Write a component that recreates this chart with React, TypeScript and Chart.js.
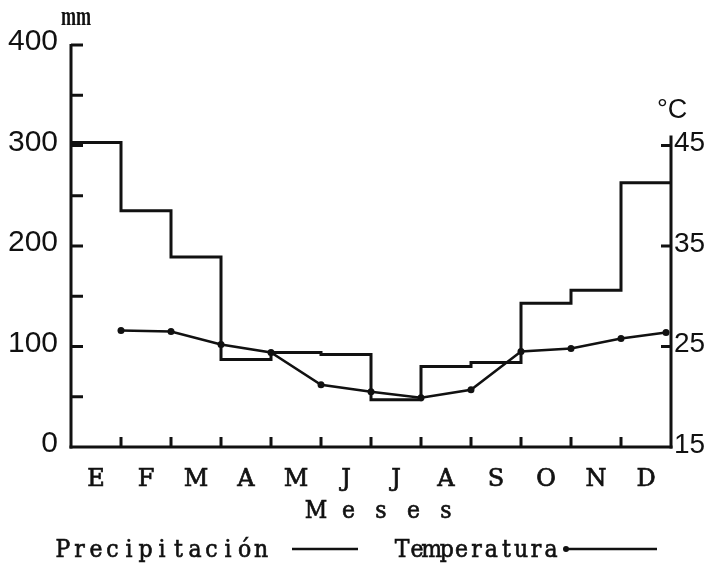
import React, { useEffect, useRef } from 'react';
import { Chart, registerables } from 'chart.js';

Chart.register(...registerables);

// ---- data ----
const months = ['E', 'F', 'M', 'A', 'M', 'J', 'J', 'A', 'S', 'O', 'N', 'D'];
const precipitation = [303, 235, 189, 87, 94, 92, 47, 80, 84, 143, 156, 263];
const temperature = [26.6, 26.5, 25.2, 24.4, 21.2, 20.5, 19.9, 20.7, 24.5, 24.8, 25.8, 26.4];
const temperatureX = [1, 2, 3, 4, 5, 6, 7, 8, 9, 10, 11, 11.9];
const precipLabelStep = 100;
const precipTickStep = 50;
const temperatureTicks = [15, 25, 35, 45];
const xTitle = 'M e s e s';
const precipUnit = 'mm';
const tempUnit = '°C';
const legendPrecip = 'Precipitación';
const legendTemp = 'Temperatura';

const INK = '#111';
const TYPE_FONT = '"DejaVu Serif"';

const precipPoints = precipitation
  .map((v, i) => ({ x: i, y: v }))
  .concat([{ x: precipitation.length, y: precipitation[precipitation.length - 1] }]);
const tempPoints = temperature.map((v, i) => ({ x: temperatureX[i], y: v }));

// typewriter-like text: fixed advance per character
function drawSpaced(ctx: CanvasRenderingContext2D, text: string, firstCenter: number, adv: number, baseline: number) {
  const chars = Array.from(text);
  chars.forEach((c, i) => {
    if (c === ' ') return;
    ctx.save();
    ctx.translate(firstCenter + i * adv, baseline);
    ctx.scale(0.88, 1);
    ctx.textAlign = 'center';
    ctx.textBaseline = 'alphabetic';
    ctx.lineWidth = 0.7;
    ctx.fillText(c, 0, 0);
    ctx.strokeText(c, 0, 0);
    ctx.restore();
  });
}

const decor = {
  id: 'decor',
  afterDatasetsDraw(chart: any) {
    const { ctx, chartArea: ca, scales } = chart;
    const x = scales.x, y = scales.y, y1 = scales.y1;
    const seg = (x0: number, y0: number, x2: number, y2: number) => {
      ctx.beginPath();
      ctx.moveTo(x0, y0);
      ctx.lineTo(x2, y2);
      ctx.stroke();
    };
    ctx.save();
    ctx.strokeStyle = INK;
    ctx.fillStyle = INK;
    ctx.lineWidth = 3;
    ctx.lineCap = 'butt';
    // left axis
    seg(ca.left, y.getPixelForValue(400) - 1, ca.left, ca.bottom + 1.5);
    y.ticks.forEach((t: any) => {
      const py = y.getPixelForValue(t.value);
      if (t.value > 0) seg(ca.left, py, ca.left + 12, py);
    });
    // bottom axis
    seg(ca.left - 1.5, ca.bottom, ca.right + 1.5, ca.bottom);
    for (let i = 1; i < months.length; i++) {
      const px = x.getPixelForValue(i);
      seg(px, ca.bottom, px, ca.bottom - 10);
    }
    // right axis
    seg(ca.right, y1.getPixelForValue(46), ca.right, ca.bottom + 1.5);
    temperatureTicks.forEach((v) => {
      if (v === 15) return;
      const py = y1.getPixelForValue(v);
      seg(ca.right - 10, py, ca.right, py);
    });

    // unit labels
    ctx.save();
    ctx.font = 'bold 19px "Liberation Serif"';
    ctx.textAlign = 'left';
    ctx.textBaseline = 'alphabetic';
    ctx.translate(61, 25);
    ctx.scale(0.95, 1.4);
    ctx.fillText(precipUnit, 0, 0);
    ctx.restore();

    ctx.font = '27px "Liberation Sans"';
    ctx.textAlign = 'left';
    ctx.textBaseline = 'alphabetic';
    ctx.fillText(tempUnit, 657, 118);

    // axis title
    ctx.font = `25px ${TYPE_FONT}`;
    drawSpaced(ctx, xTitle, 316, 16.25, 518);

    // legend
    drawSpaced(ctx, legendPrecip, 63, 16.5, 557);
    ctx.lineWidth = 2.5;
    seg(292, 549, 358, 549);
    drawSpaced(ctx, legendTemp, 402, 14.9, 557);
    seg(565, 549, 657, 549);
    ctx.beginPath();
    ctx.arc(566, 549, 3, 0, Math.PI * 2);
    ctx.fill();
    ctx.restore();
  },
};

export default function App() {
  const ref = useRef<HTMLCanvasElement>(null);
  useEffect(() => {
    if (!ref.current) return;
    const chart = new Chart(ref.current, {
      type: 'line',
      data: {
        datasets: [
          {
            label: legendPrecip,
            data: precipPoints,
            yAxisID: 'y',
            stepped: 'before',
            borderColor: INK,
            borderWidth: 3,
            pointRadius: 0,
            fill: false,
            borderJoinStyle: 'miter',
          } as any,
          {
            label: legendTemp,
            data: tempPoints,
            yAxisID: 'y1',
            borderColor: INK,
            borderWidth: 2.5,
            pointRadius: 3.5,
            pointBackgroundColor: INK,
            pointBorderWidth: 0,
            tension: 0,
            fill: false,
          },
        ],
      },
      options: {
        responsive: false,
        animation: false,
        layout: { padding: { top: 45, left: 0, right: 0, bottom: 0 } },
        plugins: { legend: { display: false }, tooltip: { enabled: false }, title: { display: false } },
        scales: {
          x: {
            type: 'linear',
            min: 0,
            max: months.length,
            grid: { display: false, drawTicks: false },
            border: { display: false },
            afterBuildTicks: (scale: any) => {
              scale.ticks = months.map((_, i) => ({ value: i + 0.5 }));
            },
            afterFit: (scale: any) => {
              scale.height = 118;
            },
            ticks: {
              autoSkip: false,
              maxRotation: 0,
              padding: 18,
              color: INK,
              textStrokeColor: INK,
              textStrokeWidth: 0.7,
              font: { family: TYPE_FONT, size: 24 },
              callback: (_v: any, i: number) => months[i],
            },
          },
          y: {
            type: 'linear',
            position: 'left',
            min: 0,
            max: 400,
            grid: { display: false, drawTicks: false },
            border: { display: false },
            afterFit: (scale: any) => {
              scale.width = 71;
            },
            ticks: {
              stepSize: precipTickStep,
              padding: 13,
              labelOffset: -3,
              color: INK,
              font: { family: '"Liberation Sans"', size: 30 },
              callback: (v: any) => (v % precipLabelStep === 0 ? String(v) : ''),
            },
          },
          y1: {
            type: 'linear',
            position: 'right',
            min: 15,
            max: 55,
            grid: { display: false, drawTicks: false },
            border: { display: false },
            afterFit: (scale: any) => {
              scale.width = 40;
            },
            afterBuildTicks: (scale: any) => {
              scale.ticks = temperatureTicks.map((v) => ({ value: v }));
            },
            ticks: {
              padding: 3,
              labelOffset: -2,
              color: INK,
              font: { family: '"Liberation Sans"', size: 28 },
              callback: (v: any) => String(v),
            },
          },
        },
      },
      plugins: [decor],
    });
    return () => chart.destroy();
  }, []);
  return (
    <div style={{ position: 'fixed', left: 0, top: 0, width: 711, height: 565, background: '#fff' }}>
      <canvas ref={ref} width={711} height={565} style={{ display: 'block' }} />
    </div>
  );
}
